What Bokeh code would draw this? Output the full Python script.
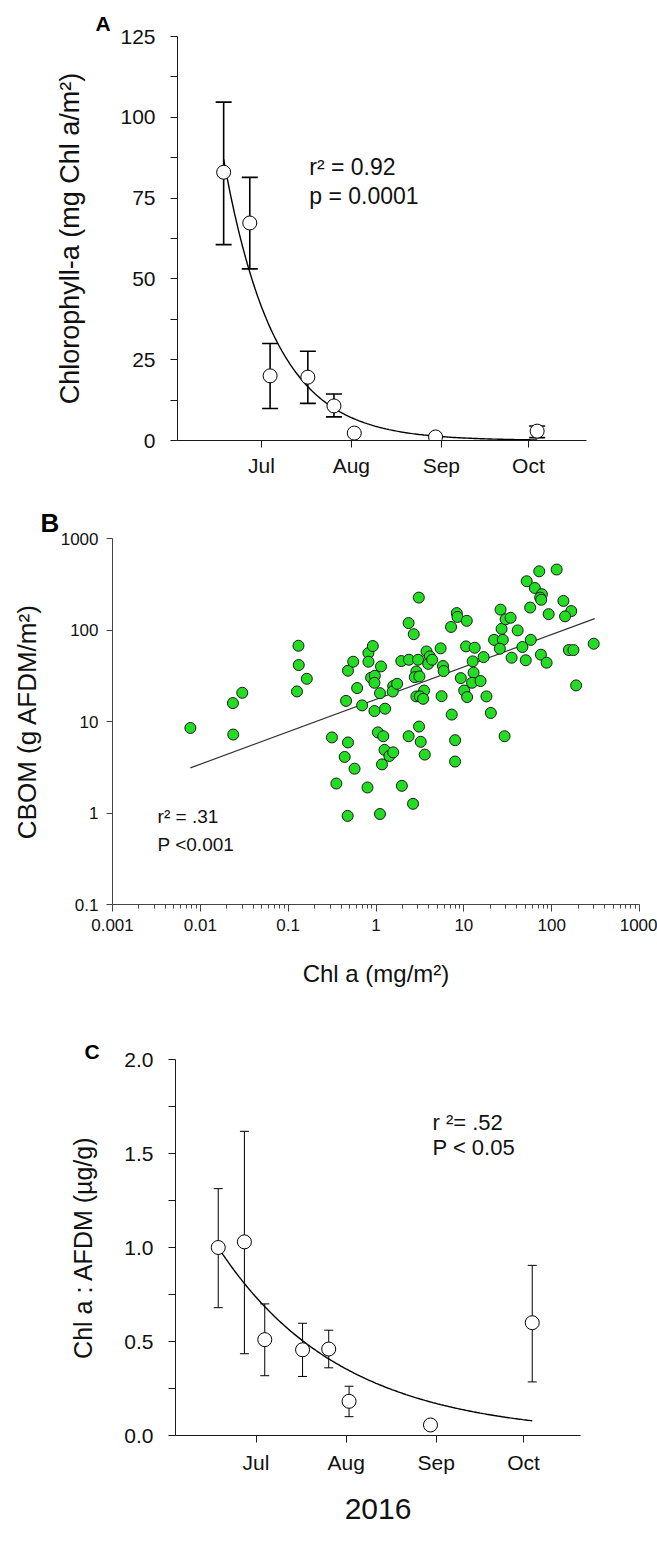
import numpy as np
import pandas as pd
from bokeh.plotting import figure
from bokeh.layouts import column
from bokeh.models import (Range1d, FixedTicker, Whisker, TeeHead, ColumnDataSource,
                          Label, Title, PrintfTickFormatter, CustomJSTickFormatter)
from bokeh.embed import file_html
from bokeh.resources import INLINE

FONT = "Liberation Sans"

# ---------------- data ----------------
# sampling dates (2016)
dates = ["2016-06-18", "2016-06-27", "2016-07-04", "2016-07-17",
         "2016-07-26", "2016-08-02", "2016-08-30", "2016-10-04"]
month_ticks = ["2016-07-01", "2016-08-01", "2016-09-01", "2016-10-01"]
month_labels = ["Jul", "Aug", "Sep", "Oct"]

# Panel A: chlorophyll-a (mg/m2), mean with error bar ends
chl_mean = [83.0, 67.3, 20.0, 19.6, 10.7, 2.3, 1.1, 2.9]
chl_upper = [104.7, 81.4, 30.0, 27.6, 14.4, np.nan, np.nan, 4.5]
chl_lower = [60.6, 53.1, 9.9, 11.5, 7.3, np.nan, np.nan, 0.9]
chl_fit_a = 87.0      # exponential decay fit  y = a*exp(-k*days)
chl_fit_k = 0.057
chl_stats = ["r\u00b2 = 0.92", "p = 0.0001"]

# Panel B: CBOM vs Chl a
chl_b = [0.0077, 0.0235, 0.030, 0.0237, 0.131, 0.132, 0.163, 0.126, 0.315, 0.48,
         0.44, 0.57, 0.354, 0.80, 0.476, 0.456, 0.48, 0.55, 0.61, 0.695,
         0.82, 0.82, 0.92, 0.88, 0.97, 0.96, 1.14, 1.11, 0.96, 1.27,
         1.05, 1.21, 1.25, 1.42, 1.57, 1.17, 1.11, 1.57, 1.55, 1.74,
         1.94, 2.37, 2.35, 2.69, 3.07, 3.01, 2.88, 2.76, 3.12, 3.76,
         4.10, 3.93, 4.36, 3.53, 2.88, 3.15, 3.44, 3.09, 2.35, 3.23,
         3.59, 1.97, 2.64, 5.44, 5.79, 5.89, 5.58, 7.15, 8.31, 8.46,
         10.8, 9.24, 10.1, 10.9, 7.28, 7.95, 7.95, 10.6, 13.3, 12.6,
         12.9, 12.4, 15.5, 16.8, 18.1, 20.3, 29.1, 22.1, 27.8, 25.7,
         26.9, 26.2, 29.9, 34.1, 41.0, 35.0, 46.4, 57.8, 50.7, 52.0,
         72.2, 114.0, 64.3, 77.4, 74.0, 76.0, 56.9, 92.4, 136.0, 167.0,
         142.0, 75.4, 87.6, 157.0, 177.0, 301.0, 190.0]
cbom_b = [8.5, 15.9, 20.6, 7.2, 67.3, 41.4, 29.3, 21.3, 6.7, 5.9,
          4.1, 3.05, 2.1, 1.9, 0.93, 16.8, 35.9, 45.0, 23.2, 15.0,
          56.0, 45.0, 66.8, 30.1, 31.6, 26.5, 40.0, 20.4, 13.0, 13.8,
          7.6, 6.9, 4.9, 4.2, 4.6, 3.4, 0.975, 24.4, 21.3, 25.8,
          45.8, 47.3, 119.0, 90.0, 226.0, 47.3, 35.2, 30.5, 31.1, 58.3,
          51.5, 42.7, 47.3, 21.8, 18.8, 18.8, 17.7, 8.8, 6.9, 6.0,
          4.35, 1.98, 1.26, 63.0, 40.4, 35.6, 18.9, 108.0, 153.0, 139.0,
          126.0, 29.8, 21.8, 18.5, 11.9, 6.25, 3.65, 66.2, 64.0, 45.4,
          34.2, 26.5, 27.7, 50.6, 18.8, 12.4, 6.9, 78.0, 78.0, 62.5,
          103.0, 167.0, 131.0, 136.0, 99.0, 49.8, 65.2, 78.0, 46.7, 341.0,
          438.0, 458.0, 288.0, 246.0, 226.0, 214.0, 176.0, 149.0, 208.0, 161.0,
          141.0, 53.7, 43.9, 60.4, 60.4, 70.8, 24.8]
fit_b_x = [0.0077, 309.0]
fit_b_y = [3.11, 133.0]
b_stats = ["r\u00b2 = .31", "P <0.001"]
b_xticks = [0.001, 0.01, 0.1, 1, 10, 100, 1000]
b_yticks = [0.1, 1, 10, 100, 1000]

# Panel C: Chl a : AFDM (ug/g)
ratio_mean = [1.00, 1.03, 0.51, 0.456, 0.46, 0.182, 0.056, 0.60]
ratio_upper = [1.313, 1.618, 0.70, 0.597, 0.56, 0.262, np.nan, 0.905]
ratio_lower = [0.68, 0.435, 0.318, 0.314, 0.36, 0.100, np.nan, 0.285]
ratio_fit_a = 1.0
ratio_fit_k = 0.0236
c_stats = ["r \u00b2= .52", "P < 0.05"]

# ---------------- helpers ----------------
doy = pd.to_datetime(dates).dayofyear.values.astype(float)
tick_doy = [int(d) for d in pd.to_datetime(month_ticks).dayofyear]


def style_axis(ax, tick_size, label_size=None, standoff=10, color="#1a1a1a"):
    ax.axis_line_color = color
    ax.axis_line_width = 1
    ax.major_tick_line_color = color
    ax.minor_tick_line_color = color
    ax.major_tick_in = 0
    ax.major_tick_out = 7
    ax.minor_tick_in = 0
    ax.minor_tick_out = 4
    ax.major_label_text_font = FONT
    ax.major_label_text_font_size = f"{tick_size}px"
    ax.major_label_text_color = "#111111"
    ax.axis_label_text_font = FONT
    ax.axis_label_text_font_style = "normal"
    ax.axis_label_text_color = "#111111"
    if label_size:
        ax.axis_label_text_font_size = f"{label_size}px"
    ax.axis_label_standoff = standoff


def base_fig(height, xr, yr, left, right, top, bottom, letter, letter_size,
             letter_offset, letter_standoff, **kw):
    p = figure(width=657, height=height, x_range=xr, y_range=yr,
               output_backend="svg", toolbar_location=None,
               min_border_left=left, min_border_right=right,
               min_border_top=top, min_border_bottom=bottom,
               frame_align=False, **kw)
    p.grid.visible = False
    p.outline_line_color = None
    p.background_fill_color = "white"
    p.border_fill_color = "white"
    p.title = Title(text=letter, text_font=FONT, text_font_size=f"{letter_size}px",
                    text_font_style="bold", text_color="#000000", align="left",
                    offset=letter_offset, standoff=letter_standoff)
    return p


def add_text(p, x, y, text, size):
    p.add_layout(Label(x=x, y=y, text=text, text_font=FONT,
                       text_font_size=f"{size}px", text_font_style="normal",
                       text_baseline="middle", text_align="left",
                       text_color="#111111"))


def add_errorbars(p, upper, lower, width, cap):
    up = np.array(upper, dtype=float)
    lo = np.array(lower, dtype=float)
    ok = ~np.isnan(up)
    src = ColumnDataSource(dict(x=doy[ok], hi=up[ok], lo=lo[ok]))
    w = Whisker(source=src, base="x", upper="hi", lower="lo",
                line_color="black", line_width=width,
                upper_head=TeeHead(size=cap, line_width=width, line_color="black"),
                lower_head=TeeHead(size=cap, line_width=width, line_color="black"))
    p.add_layout(w)


# ---------------- Panel A ----------------
pA = base_fig(480, Range1d(154.1, 295.0), Range1d(0, 125), 177, 71, 36, 40,
              "A", 21, -82, 3)
pA.yaxis.ticker = FixedTicker(ticks=[0, 25, 50, 75, 100, 125],
                              minor_ticks=[12.5, 37.5, 62.5, 87.5, 112.5])
pA.xaxis.ticker = FixedTicker(ticks=tick_doy)
pA.xaxis.major_label_overrides = {t: l for t, l in zip(tick_doy, month_labels)}
style_axis(pA.xaxis[0], 21)
style_axis(pA.yaxis[0], 21, 27, 32)
pA.yaxis.minor_tick_out = 7
pA.xaxis.major_label_standoff = 6
pA.yaxis.major_label_standoff = 15
pA.yaxis.axis_label = "Chlorophyll-a (mg Chl a/m\u00b2)"

add_errorbars(pA, chl_upper, chl_lower, 1.6, 16)
tA = np.linspace(doy[0], doy[-1], 200)
pA.line(tA, chl_fit_a * np.exp(-chl_fit_k * (tA - doy[0])), line_color="black", line_width=1.4)
pA.scatter(doy, chl_mean, size=14, marker="circle", fill_color="white",
           line_color="black", line_width=1)
add_text(pA, 199.5, 84.5, chl_stats[0], 23)
add_text(pA, 199.5, 75.8, chl_stats[1], 23)

# ---------------- Panel B ----------------
pB = base_fig(520, Range1d(0.001, 1000), Range1d(0.1, 1000), 112, 18, 58, 96,
              "B", 26, -72, 1, x_axis_type="log", y_axis_type="log")
minor_b = [m * 10.0 ** e for e in range(-3, 3) for m in range(2, 10)]
pB.xaxis.ticker = FixedTicker(ticks=b_xticks, minor_ticks=minor_b)
pB.yaxis.ticker = FixedTicker(ticks=b_yticks)
pB.xaxis.formatter = CustomJSTickFormatter(code="return tick.toString()")
pB.yaxis.formatter = CustomJSTickFormatter(code="return tick.toString()")
style_axis(pB.xaxis[0], 17, 24, 26, "#444444")
style_axis(pB.yaxis[0], 17, 26, 16, "#444444")
pB.xaxis.major_label_standoff = 7
pB.yaxis.major_label_standoff = 8
pB.yaxis.major_tick_out = 6
pB.xaxis.axis_label = "Chl a (mg/m\u00b2)"
pB.yaxis.axis_label = "CBOM (g AFDM/m\u00b2)"

pB.line(fit_b_x, fit_b_y, line_color="#333333", line_width=1.2)
pB.scatter(chl_b, cbom_b, size=11, marker="circle", fill_color="#22dd22",
           line_color="#1a1a1a", line_width=1)
add_text(pB, 0.00326, 0.927, b_stats[0], 19)
add_text(pB, 0.00326, 0.458, b_stats[1], 19)

# ---------------- Panel C ----------------
pC = base_fig(561, Range1d(155.3, 294.6), Range1d(0, 2), 175, 77, 59, 126,
              "C", 21, -91, -6)
pC.yaxis.ticker = FixedTicker(ticks=[0, 0.5, 1.0, 1.5, 2.0],
                              minor_ticks=[0.25, 0.75, 1.25, 1.75])
pC.yaxis.formatter = PrintfTickFormatter(format="%.1f")
pC.xaxis.ticker = FixedTicker(ticks=tick_doy)
pC.xaxis.major_label_overrides = {t: l for t, l in zip(tick_doy, month_labels)}
style_axis(pC.xaxis[0], 21, 30, 22)
style_axis(pC.yaxis[0], 21, 25, 24)
pC.yaxis.minor_tick_out = 7
pC.xaxis.major_label_standoff = 8
pC.yaxis.major_label_standoff = 15
pC.xaxis.axis_label = "2016"
pC.yaxis.axis_label = "Chl a : AFDM (\u00b5g/g)"

add_errorbars(pC, ratio_upper, ratio_lower, 1.0, 9)
tC = np.linspace(doy[0], doy[-1], 200)
pC.line(tC, ratio_fit_a * np.exp(-ratio_fit_k * (tC - doy[0])), line_color="black", line_width=1.4)
pC.scatter(doy, ratio_mean, size=14, marker="circle", fill_color="white",
           line_color="black", line_width=1)
add_text(pC, 243.7, 1.665, c_stats[0], 22)
add_text(pC, 243.7, 1.532, c_stats[1], 22)

layout = column(pA, pB, pC, spacing=0)
open("out.html", "w").write(file_html(layout, INLINE))
